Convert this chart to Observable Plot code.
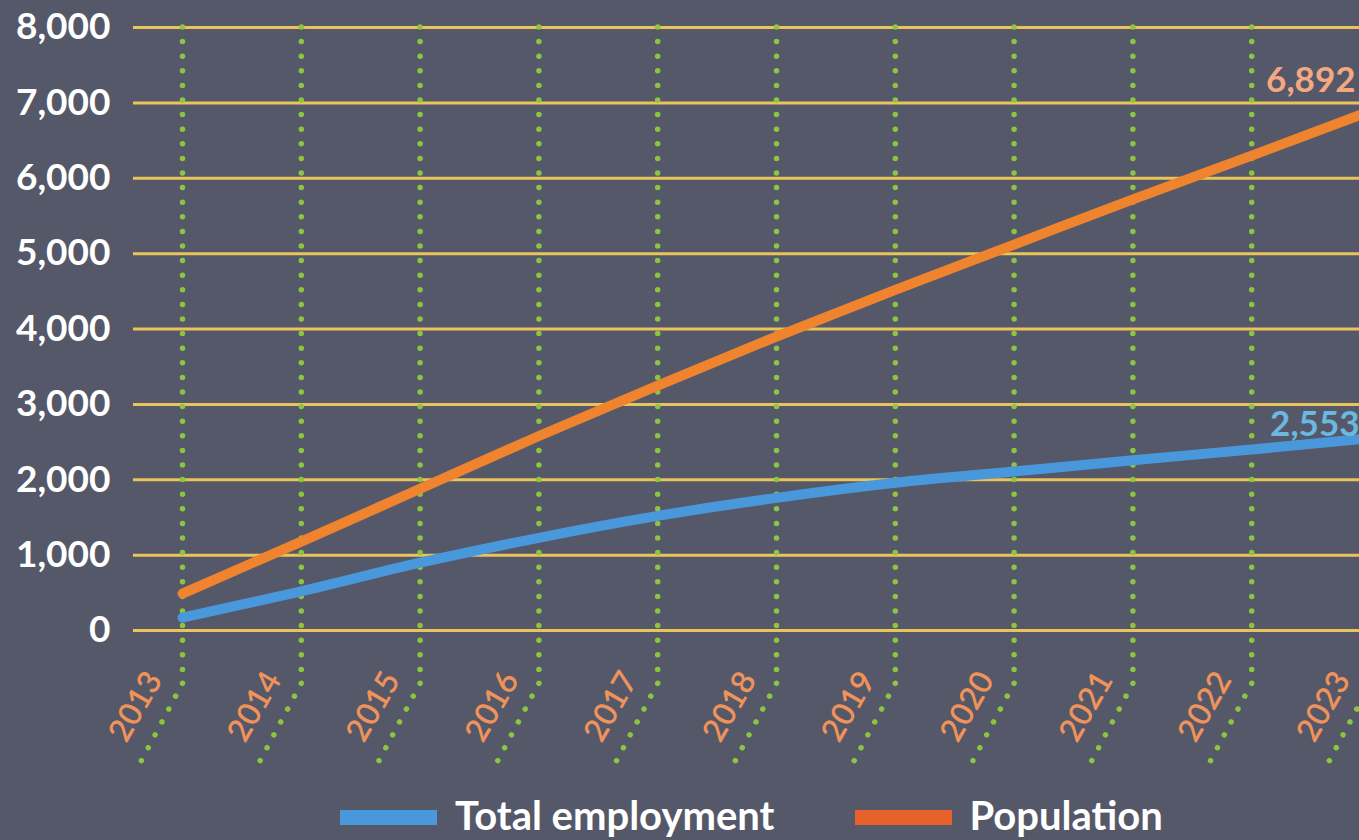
<!DOCTYPE html>
<html>
<head>
<meta charset="utf-8">
<script src="https://cdn.jsdelivr.net/npm/d3@7"></script>
<script src="https://cdn.jsdelivr.net/npm/@observablehq/plot@0.6"></script>
<style>
  html, body { margin: 0; padding: 0; background: #555869; overflow: hidden; width: 1359px; height: 840px; }
  #chart svg { display: block; background: #555869; }
  .legend { display: flex; align-items: center; height: 50px; line-height: 1; padding-left: 340px; font-family: Lato, "Open Sans", sans-serif; font-weight: 700; font-size: 40px; color: #ffffff; }
  .legend .sw { width: 97px; height: 15px; margin-right: 18px; margin-top: 4px; }
  .legend .item { display: flex; align-items: center; margin-right: 80px; }
</style>
</head>
<body>
<div id="chart"></div>
<div class="legend" id="legend"></div>
<script>
const years = [2013, 2014, 2015, 2016, 2017, 2018, 2019, 2020, 2021, 2022, 2023];
const population = [490, 1180, 1880, 2580, 3250, 3900, 4520, 5120, 5720, 6300, 6892];
const employment = [170, 520, 900, 1230, 1520, 1760, 1960, 2110, 2260, 2400, 2553];
const yTicks = [0, 1000, 2000, 3000, 4000, 5000, 6000, 7000, 8000];
const seriesNames = ["Total employment", "Population"];
const lineColors = ["#4a98dc", "#f0832e"];
const legendColors = ["#4a98dc", "#e8602c"];
const gridBottom = -700;

const empData = years.map((y, i) => ({year: y, value: employment[i]}));
const popData = years.map((y, i) => ({year: y, value: population[i]}));

const lineShape = {draw(context, l) { context.moveTo(0, 0); context.lineTo(0, -l); }};
const dotted = {stroke: "#8cc63f", strokeWidth: 5.5, strokeDasharray: "0 14.6", strokeLinecap: "round"};
const font = "Lato, 'Open Sans', sans-serif";

const chart = Plot.plot({
  width: 1359,
  height: 790,
  marginTop: 27,
  marginBottom: 160,
  marginLeft: 133,
  marginRight: 0,
  style: {background: "#555869", overflow: "hidden"},
  x: {domain: [2013, 2023], range: [182, 1370], axis: null},
  y: {domain: [0, 8000], axis: null},
  marks: [
    Plot.ruleY(yTicks, {stroke: "#e8c45a", strokeWidth: 3}),
    Plot.ruleX(years, {x: d => d, y1: 8000, y2: gridBottom, ...dotted}),
    Plot.vector(years, {x: d => d, y: gridBottom, length: 100, rotate: 208, anchor: "start", shape: lineShape, ...dotted}),
    Plot.text(yTicks, {x: 2013, y: d => d, text: d => d3.format(",")(d), textAnchor: "end", dx: -72, fill: "#ffffff", fontSize: 37, fontWeight: 700, fontFamily: font}),
    Plot.text(years, {x: d => d, y: 0, text: d => String(d), rotate: -60, textAnchor: "end", dx: -28, dy: 44, fill: "#f0935a", fontSize: 32, fontWeight: 600, fontFamily: font}),
    Plot.line(empData, {x: "year", y: "value", stroke: lineColors[0], strokeWidth: 10, curve: "monotone-x", strokeLinecap: "round"}),
    Plot.line(popData, {x: "year", y: "value", stroke: lineColors[1], strokeWidth: 10, curve: "monotone-x", strokeLinecap: "round"}),
    Plot.text(popData.slice(-1), {x: "year", y: "value", text: d => d3.format(",")(d.value), textAnchor: "end", dx: -15, dy: -30, fill: "#f4a882", fontSize: 35, fontWeight: 700, fontFamily: font}),
    Plot.text(empData.slice(-1), {x: "year", y: "value", text: d => d3.format(",")(d.value), textAnchor: "end", dx: -11, dy: -13, fill: "#6bb8e0", fontSize: 35, fontWeight: 700, fontFamily: font})
  ]
});
document.getElementById("chart").appendChild(chart);

const legend = document.getElementById("legend");
seriesNames.forEach((name, i) => {
  const item = document.createElement("div");
  item.className = "item";
  const sw = document.createElement("div");
  sw.className = "sw";
  sw.style.background = legendColors[i];
  const label = document.createElement("span");
  label.textContent = name;
  item.appendChild(sw);
  item.appendChild(label);
  legend.appendChild(item);
});
</script>
</body>
</html>
